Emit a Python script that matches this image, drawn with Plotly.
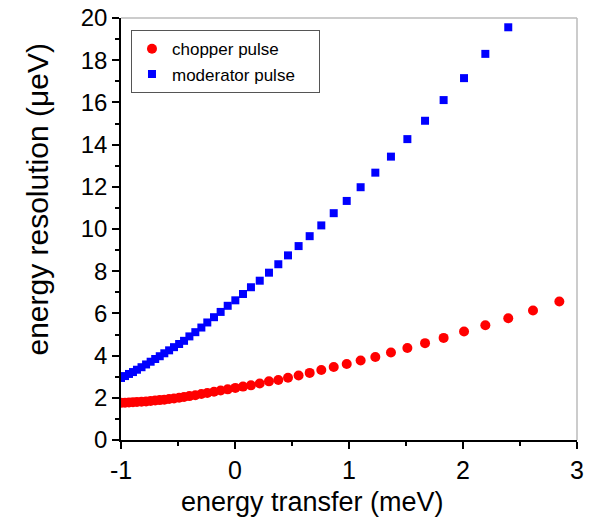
import plotly.graph_objects as go

# energy transfer (meV), shared by both series
energy_transfer = [-1.0, -0.965, -0.93, -0.895, -0.86, -0.82, -0.78, -0.74, -0.70, -0.66,
                   -0.62, -0.578, -0.535, -0.49, -0.447, -0.40, -0.348, -0.295, -0.243,
                   -0.184, -0.126, -0.064, 0.003, 0.07, 0.14, 0.217, 0.298, 0.38, 0.465,
                   0.558, 0.655, 0.757, 0.866, 0.98, 1.102, 1.231, 1.368, 1.512, 1.667,
                   1.83, 2.009, 2.196, 2.397, 2.614, 2.845]

chopper_pulse = [1.76, 1.77, 1.78, 1.79, 1.80, 1.81, 1.83, 1.85, 1.87, 1.89,
                 1.91, 1.94, 1.97, 2.00, 2.04, 2.08, 2.12, 2.18, 2.23,
                 2.29, 2.35, 2.40, 2.47, 2.53, 2.59, 2.68, 2.78, 2.84, 2.95,
                 3.06, 3.18, 3.32, 3.46, 3.60, 3.77, 3.93, 4.15, 4.36, 4.59,
                 4.84, 5.14, 5.44, 5.77, 6.14, 6.56]

moderator_pulse = [2.94, 3.03, 3.13, 3.22, 3.33, 3.45, 3.58, 3.71, 3.84, 3.97,
                   4.11, 4.25, 4.40, 4.55, 4.70, 4.91, 5.11, 5.33, 5.57,
                   5.82, 6.07, 6.36, 6.62, 6.92, 7.24, 7.55, 7.93, 8.33, 8.75,
                   9.19, 9.66, 10.17, 10.75, 11.33, 11.98, 12.67, 13.43, 14.26, 15.13,
                   16.11, 17.15, 18.30, 19.56]

x_tickvals = [-1, 0, 1, 2, 3]
x_ticktext = ["-1", "0", "1", "2", "3"]
y_tickvals = [0, 2, 4, 6, 8, 10, 12, 14, 16, 18, 20]
y_ticktext = ["0", "2", "4", "6", "8", "10", "12", "14", "16", "18", "20"]

FONT = "Liberation Sans, Arial, sans-serif"

fig = go.Figure()
fig.add_trace(go.Scatter(
    x=energy_transfer, y=chopper_pulse, mode="markers", name="chopper pulse",
    marker=dict(symbol="circle", size=10, color="#ff0000", line=dict(width=0))))
fig.add_trace(go.Scatter(
    x=energy_transfer[:len(moderator_pulse)], y=moderator_pulse, mode="markers",
    name="moderator pulse\u00a0\u00a0\u00a0\u00a0",
    marker=dict(symbol="square", size=8, color="#0000ff", line=dict(width=0))))

axis_common = dict(
    showgrid=False, zeroline=False, showline=True, linecolor="black", linewidth=1.5,
    ticks="outside", ticklen=7, tickwidth=1.5, tickcolor="black",
    ticklabeloverflow="allow", automargin=False,
)

fig.update_xaxes(range=[-1, 3], tickvals=x_tickvals, ticktext=x_ticktext,
                 tickfont=dict(family=FONT, size=25, color="black"),
                 minor=dict(dtick=0.5, tick0=-1, ticks="outside", ticklen=4,
                            tickcolor="black", tickwidth=1.5),
                 **axis_common)
fig.update_yaxes(range=[0, 20], tickvals=y_tickvals, ticktext=y_ticktext,
                 tickfont=dict(family=FONT, size=24, color="black"),
                 minor=dict(dtick=1, tick0=0, ticks="outside", ticklen=4,
                            tickcolor="black", tickwidth=1.5),
                 **axis_common)

# top and right frame lines in grey
fig.add_shape(type="line", xref="paper", yref="paper", x0=0, x1=1, y0=1, y1=1,
              line=dict(color="#bbbbbb", width=1.5))
fig.add_shape(type="line", xref="paper", yref="paper", x0=1, x1=1, y0=0, y1=1,
              line=dict(color="#bbbbbb", width=1.5))

fig.add_annotation(text="energy transfer (meV)", xref="paper", yref="paper",
                   x=0.421, y=-0.1476, xanchor="center", yanchor="middle",
                   showarrow=False, font=dict(family=FONT, size=27, color="black"))
fig.add_annotation(text="energy resolution (\u03bceV)", xref="paper", yref="paper",
                   x=-0.184, y=0.570, xanchor="center", yanchor="middle", textangle=-90,
                   showarrow=False, font=dict(family=FONT, size=30, color="black"))

fig.update_layout(
    width=587, height=514,
    margin=dict(l=113, r=18, t=10, b=81.5, autoexpand=False),
    paper_bgcolor="white", plot_bgcolor="white",
    showlegend=True,
    legend=dict(x=0.0219, y=0.971, xanchor="left", yanchor="top",
                bordercolor="#555555", borderwidth=1, bgcolor="white",
                font=dict(family=FONT, size=17, color="black")),
)

fig.write_html("out.html")
